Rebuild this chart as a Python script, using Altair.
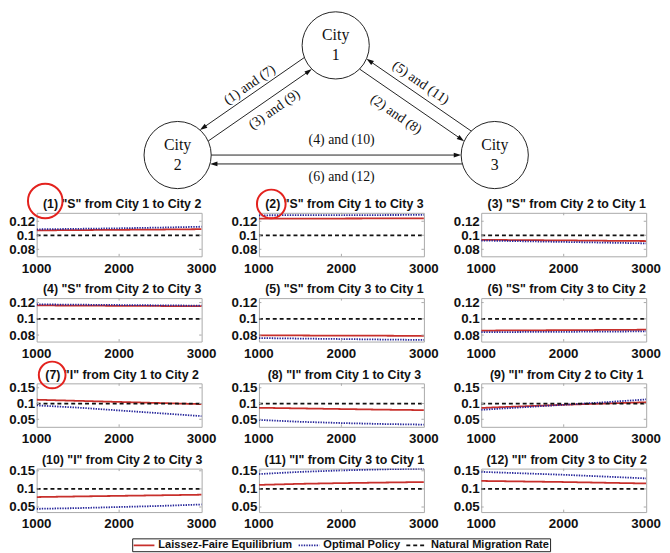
import math
import altair as alt
import pandas as pd

# ------------------------------------------------------------------ data
years = [1000, 1500, 2000, 2500, 3000]
series_names = ["Laissez-Faire Equilibrium", "Optimal Policy", "Natural Migration Rate"]
natural_rate = 0.1

panel_titles = [
    '(1) "S" from City 1 to City 2', '(2) "S" from City 1 to City 3', '(3) "S" from City 2 to City 1',
    '(4) "S" from City 2 to City 3', '(5) "S" from City 3 to City 1', '(6) "S" from City 3 to City 2',
    '(7) "I" from City 1 to City 2', '(8) "I" from City 1 to City 3', '(9) "I" from City 2 to City 1',
    '(10) "I" from City 2 to City 3', '(11) "I" from City 3 to City 1', '(12) "I" from City 3 to City 2',
]

laissez_faire = [
    [0.1070, 0.1074, 0.1078, 0.1082, 0.1087],
    [0.1238, 0.1239, 0.1239, 0.1240, 0.1240],
    [0.0935, 0.0931, 0.0927, 0.0922, 0.0918],
    [0.1165, 0.1163, 0.1160, 0.1158, 0.1155],
    [0.0797, 0.0795, 0.0793, 0.0792, 0.0790],
    [0.0855, 0.0858, 0.0860, 0.0863, 0.0866],
    [0.1120, 0.1085, 0.1050, 0.1015, 0.0980],
    [0.0865, 0.0845, 0.0825, 0.0805, 0.0790],
    [0.0860, 0.0910, 0.0960, 0.1000, 0.1040],
    [0.0775, 0.0792, 0.0808, 0.0824, 0.0840],
    [0.1110, 0.1140, 0.1160, 0.1175, 0.1190],
    [0.1220, 0.1205, 0.1190, 0.1170, 0.1150],
]
optimal_policy = [
    [0.1085, 0.1092, 0.1100, 0.1110, 0.1122],
    [0.1285, 0.1287, 0.1288, 0.1289, 0.1290],
    [0.0925, 0.0915, 0.0905, 0.0895, 0.0885],
    [0.1178, 0.1174, 0.1170, 0.1166, 0.1162],
    [0.0763, 0.0757, 0.0751, 0.0745, 0.0740],
    [0.0835, 0.0838, 0.0840, 0.0843, 0.0845],
    [0.0940, 0.0870, 0.0780, 0.0690, 0.0600],
    [0.0480, 0.0420, 0.0380, 0.0350, 0.0330],
    [0.0800, 0.0880, 0.0960, 0.1040, 0.1130],
    [0.0450, 0.0470, 0.0500, 0.0530, 0.0570],
    [0.1410, 0.1470, 0.1510, 0.1540, 0.1560],
    [0.1470, 0.1430, 0.1390, 0.1340, 0.1290],
]

row_domains = [[0.070, 0.132], [0.072, 0.1255], [0.026, 0.164], [0.036, 0.156]]
row_ticks = [[0.08, 0.1, 0.12], [0.08, 0.1, 0.12], [0.05, 0.1, 0.15], [0.05, 0.1, 0.15]]
x_ticks = [1000, 2000, 3000]

# red annotation circles (panel index -> pixel offset from plot origin, diameter)
circled_panels = [0, 1, 6]
circle_dx = [8.7, 12.5, 15.7]
circle_dy = [-12, -9, -8.5]
circle_diam = [35, 29, 27]

# diagram: node layout (1 unit = 1 px)
city_names = ["1", "2", "3"]
city_u = [0, -160, 161]
city_v = [111, 0, 0]
city_radius = 34
arrow_from = ["1", "2", "1", "3", "2", "3"]
arrow_to = ["2", "1", "3", "1", "3", "2"]
arrow_offset = [-8, -6, -6, -6.5, 0, 9]
arrow_labels = ["(1) and (7)", "(3) and (9)", "(2) and (8)", "(5) and (11)", "(4) and (10)", "(6) and (12)"]
label_perp = [-16.7, -18.1, -23, -17.5, 15, 22.5]
label_along = [-3.1, 9.4, -7.8, 5.4, 5.5, -5.5]

# ------------------------------------------------------------------ styles
colors = ["#c8302c", "#25259a", "#111111"]
dashes = [[1, 0], [1.4, 1.2], [4, 3]]
widths = [1.8, 1.8, 1.2]
FONT = "Liberation Sans"
SERIF = "Liberation Serif"
PW, PH = 167, 44
COL_GAP, ROW_GAP = 58, 42.3
FRAME = "#a9a9a9"

# ------------------------------------------------------------------ diagram
pos = {c: (u, v) for c, u, v in zip(city_names, city_u, city_v)}
arrow_rows, head_rows, label_rows = [], [], []
for a, b, off, lab, pp, al in zip(arrow_from, arrow_to, arrow_offset, arrow_labels, label_perp, label_along):
    (au, av), (bu, bv) = pos[a], pos[b]
    L = math.hypot(bu - au, bv - av)
    du, dv = (bu - au) / L, (bv - av) / L
    nu, nv = -dv, du
    inset = math.sqrt(city_radius ** 2 - off ** 2)
    su, sv = au + nu * off + du * inset, av + nv * off + dv * inset
    tu, tv = bu + nu * off - du * inset, bv + nv * off - dv * inset
    arrow_rows.append({"x1": su, "y1": sv, "x2": tu - du * 4, "y2": tv - dv * 4})
    head_rows.append({"x": tu, "y": tv, "ang": math.degrees(math.atan2(du, dv)) % 360})
    mu, mv = (au + bu) / 2 + du * al + nu * pp, (av + bv) / 2 + dv * al + nv * pp
    tdu, tdv = (du, dv) if du >= 0 else (-du, -dv)
    label_rows.append({"x": mu, "y": mv, "text": lab,
                       "ang": math.degrees(math.atan2(-tdv, tdu)) % 360})

DW = 3 * PW + 2 * COL_GAP  # width spanning the three columns' plot areas
nodes_df = pd.DataFrame({"city": city_names, "x": city_u, "y": city_v})
xs = alt.Scale(domain=[-302.7, -302.7 + DW], nice=False, zero=False)
ys = alt.Scale(domain=[-35, 145], nice=False, zero=False)

nodes_base = alt.Chart(nodes_df)
circles = nodes_base.mark_point(shape="circle", filled=False, color="#222", strokeWidth=1,
                                size=(2 * city_radius) ** 2, opacity=1).encode(
    x=alt.X("x:Q", scale=xs, axis=None), y=alt.Y("y:Q", scale=ys, axis=None))
city_word = nodes_base.mark_text(font=SERIF, fontSize=16, dy=-10, color="#111").encode(
    x=alt.X("x:Q", scale=xs, axis=None), y=alt.Y("y:Q", scale=ys, axis=None), text=alt.value("City"))
city_num = nodes_base.mark_text(font=SERIF, fontSize=16, dy=10, color="#111").encode(
    x=alt.X("x:Q", scale=xs, axis=None), y=alt.Y("y:Q", scale=ys, axis=None), text="city:N")
rules = alt.Chart(pd.DataFrame(arrow_rows)).mark_rule(color="#222", strokeWidth=1).encode(
    x=alt.X("x1:Q", scale=xs, axis=None), y=alt.Y("y1:Q", scale=ys, axis=None), x2="x2:Q", y2="y2:Q")
heads = alt.Chart(pd.DataFrame(head_rows)).mark_point(
    shape="M0,0L-0.32,1L0.32,1Z", filled=True, color="#111", size=225, opacity=1).encode(
    x=alt.X("x:Q", scale=xs, axis=None), y=alt.Y("y:Q", scale=ys, axis=None),
    angle=alt.Angle("ang:Q", scale=None))
labels = alt.Chart(pd.DataFrame(label_rows)).mark_text(font=SERIF, fontSize=14, color="#111").encode(
    x=alt.X("x:Q", scale=xs, axis=None), y=alt.Y("y:Q", scale=ys, axis=None), text="text:N",
    angle=alt.Angle("ang:Q", scale=None))
diagram = alt.layer(rules, heads, circles, city_word, city_num, labels).properties(
    width=DW, height=180, view=alt.ViewBackground(stroke="transparent"))

# ------------------------------------------------------------------ panels
def panel(i):
    r = i // 3
    rows = []
    for s, vals in ((series_names[0], laissez_faire[i]), (series_names[1], optimal_policy[i]),
                    (series_names[2], [natural_rate] * len(years))):
        for yr, v in zip(years, vals):
            rows.append({"year": yr, "value": v, "series": s})
    df = pd.DataFrame(rows)
    leg = alt.Legend(title=None)
    xsc = alt.Scale(domain=[1000, 3000], nice=False, zero=False)
    ysc = alt.Scale(domain=row_domains[r], nice=False, zero=False)
    yax = alt.Axis(values=row_ticks[r], format=".2~f", title=None, labelPadding=2,
                   labelFlush=False, labelOverlap=False, minExtent=28, maxExtent=28)
    lines = alt.Chart(df).mark_line(clip=True).encode(
        x=alt.X("year:Q", scale=xsc, axis=None),
        y=alt.Y("value:Q", scale=ysc, axis=yax),
        color=alt.Color("series:N", scale=alt.Scale(domain=series_names, range=colors), legend=leg),
        strokeDash=alt.StrokeDash("series:N", scale=alt.Scale(domain=series_names, range=dashes), legend=leg),
        strokeWidth=alt.StrokeWidth("series:N", scale=alt.Scale(domain=series_names, range=widths), legend=None),
    )
    # x tick labels, centred on their ticks
    xt_all = alt.Chart(pd.DataFrame({"t": x_ticks}))
    xlab = xt_all.mark_text(font=FONT, fontSize=13.5, fontWeight="bold", color="#111",
                            baseline="top", align="center").encode(
        x=alt.X("t:Q", scale=xsc, axis=None), y=alt.value(PH + 5.5), text=alt.Text("t:Q", format="d"))
    # small inward tick marks, as drawn by the original plotting tool
    xt = xt_all.transform_filter("datum.t > 1000 && datum.t < 3000")
    xt_top = xt.mark_rule(color=FRAME, strokeWidth=1).encode(
        x=alt.X("t:Q", scale=xsc, axis=None), y=alt.value(0), y2=alt.value(2.5))
    xt_bot = xt.mark_rule(color=FRAME, strokeWidth=1).encode(
        x=alt.X("t:Q", scale=xsc, axis=None), y=alt.value(PH), y2=alt.value(PH - 2.5))
    yt = alt.Chart(pd.DataFrame({"t": row_ticks[r]}))
    yt_left = yt.mark_rule(color=FRAME, strokeWidth=1).encode(
        y=alt.Y("t:Q", scale=ysc, axis=yax), x=alt.value(0), x2=alt.value(2.5))
    yt_right = yt.mark_rule(color=FRAME, strokeWidth=1).encode(
        y=alt.Y("t:Q", scale=ysc, axis=yax), x=alt.value(PW), x2=alt.value(PW - 2.5))
    title = alt.Chart(pd.DataFrame({"t": [panel_titles[i]]})).mark_text(
        font=FONT, fontSize=12.5, fontWeight="bold", color="#111", baseline="alphabetic", align="center"
    ).encode(x=alt.value(PW / 2 + 3), y=alt.value(-4.7), text="t:N")
    layers = [lines, xt_top, xt_bot, yt_left, yt_right, xlab, title]
    if i in circled_panels:
        k = circled_panels.index(i)
        ring = alt.Chart(pd.DataFrame({"a": [0]})).mark_point(
            shape="circle", filled=False, color="#e3221e", strokeWidth=2, opacity=1,
            size=circle_diam[k] ** 2).encode(x=alt.value(circle_dx[k]), y=alt.value(circle_dy[k]))
        layers.append(ring)
    return alt.layer(*layers).properties(width=PW, height=PH)

grid = alt.concat(*[panel(i) for i in range(12)], columns=3,
                  spacing={"row": ROW_GAP, "column": COL_GAP}, bounds="flush")

chart = alt.vconcat(diagram, grid, spacing=23.5, bounds="flush").properties(
    padding={"top": -2.5, "left": 0, "right": 0, "bottom": 0}
).configure_view(
    stroke=FRAME, strokeWidth=1
).configure_axis(
    labelFont=FONT, labelFontWeight="bold", labelFontSize=13.5, labelColor="#111",
    domain=False, ticks=False, grid=False
).configure_legend(
    orient="none", legendX=96.7, legendY=533, direction="horizontal",
    strokeColor="#222", padding=0.5, labelFont=FONT, labelFontWeight="bold", labelFontSize=11.2,
    labelColor="#111", symbolType="M-1,0L2.82,0", symbolSize=121, symbolStrokeWidth=1.6,
    labelOffset=13, columnPadding=2, cornerRadius=0
)

chart.save("out.html", embed_options={"renderer": "svg", "actions": False})
